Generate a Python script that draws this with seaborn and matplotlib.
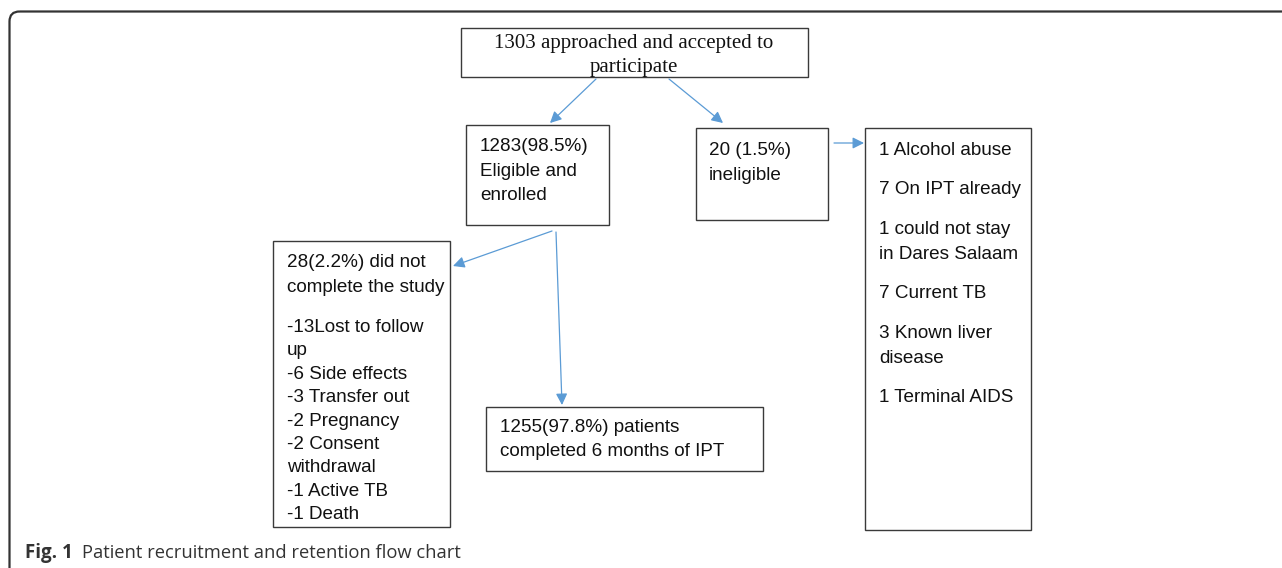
import matplotlib.pyplot as plt
from matplotlib.patches import FancyArrowPatch, FancyBboxPatch, Rectangle
import seaborn as sns

# box texts
top_lines = ["1303 approached and accepted to", "participate"]
eligible_lines = ["1283(98.5%)", "Eligible and", "enrolled"]
ineligible_lines = ["20 (1.5%)", "ineligible"]
ineligible_reasons = [
    ["1 Alcohol abuse"],
    ["7 On IPT already"],
    ["1 could not stay", "in Dares Salaam"],
    ["7 Current TB"],
    ["3 Known liver", "disease"],
    ["1 Terminal AIDS"],
]
dropout_header = ["28(2.2%) did not", "complete the study"]
dropout_reasons = ["-13Lost to follow", "up", "-6 Side effects", "-3 Transfer out",
                   "-2 Pregnancy", "-2 Consent", "withdrawal", "-1 Active TB", "-1 Death"]
completed_lines = ["1255(97.8%) patients", "completed 6 months of IPT"]
caption_label = "Fig. 1"
caption_text = "Patient recruitment and retention flow chart"

sns.set_theme(style="white")
plt.rcParams["font.family"] = ["Liberation Sans", "DejaVu Sans"]

W, H = 1282, 568
fig = plt.figure(figsize=(W / 100, H / 100), dpi=100)
ax = fig.add_axes([0, 0, 1, 1])
ax.set_xlim(0, W)
ax.set_ylim(H, 0)
ax.axis("off")

EDGE = "#3a3a3a"
ARROW = "#5b9bd5"
SANS = 13.6


def box(x0, y0, x1, y1):
    ax.add_patch(Rectangle((x0, y0), x1 - x0, y1 - y0, fill=False,
                           ec=EDGE, lw=1.0))


def lines(x, baselines, texts, **kw):
    for y, t in zip(baselines, texts):
        ax.text(x, y, t, va="baseline", ha=kw.get("ha", "left"),
                fontsize=kw.get("size", SANS), color="#111111",
                family=kw.get("family", ["Liberation Sans"]))


def arrow(p0, p1):
    ax.add_patch(FancyArrowPatch(p0, p1, arrowstyle="-|>", mutation_scale=17,
                                 color=ARROW, lw=0.9, shrinkA=0, shrinkB=0))


# outer frame (rounded corner at top-left, runs off the page)
ax.add_patch(FancyBboxPatch((9.5, 11.5), 1400, 700,
                            boxstyle="round,pad=0,rounding_size=10",
                            fill=False, ec="#333333", lw=1.6))

# boxes
box(461, 28, 808, 77)
box(466, 125, 609, 225)
box(696, 128, 828, 220)
box(865, 128, 1031, 530)
box(273, 241, 450, 527)
box(486, 407, 763, 471)

lines(634, [48, 72], top_lines, ha="center", size=15,
      family=["Liberation Serif"])
lines(480, [151, 175.5, 200], eligible_lines)
lines(709, [155, 180], ineligible_lines)

y = 155
for para in ineligible_reasons:
    lines(879, [y + 25 * i for i in range(len(para))], para)
    y += 25 * (len(para) - 1) + 39.5

lines(287, [267, 292], dropout_header)
lines(287, [332 + 23.4 * i for i in range(len(dropout_reasons))], dropout_reasons)
lines(500, [432, 456], completed_lines)

# arrows
arrow((596, 79), (550, 123))
arrow((669, 79), (723, 123))
arrow((834, 143), (864, 143))
arrow((552, 231), (453, 266))
arrow((556, 232), (562, 405))

# caption
ax.text(25, 558, caption_label, fontsize=13.5, fontweight="bold",
        color="#333333", family=["Open Sans"], va="baseline")
ax.text(82, 558, caption_text, fontsize=13.2, color="#333333",
        family=["Open Sans"], va="baseline")

fig.savefig("out.png", dpi=100)
